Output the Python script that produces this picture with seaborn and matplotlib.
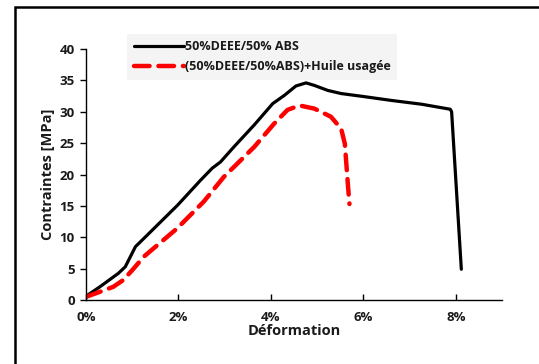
import matplotlib
matplotlib.use("Agg")
import matplotlib.pyplot as plt
import seaborn as sns
import pandas as pd
from matplotlib.patches import Rectangle
from matplotlib.ticker import FuncFormatter

# Data (strain in %, stress in MPa)
strain_abs = [0.0, 0.30, 0.70, 0.85, 0.96, 1.07, 1.25, 1.98, 2.48, 2.73, 2.91, 3.20, 3.64,
              4.04, 4.29, 4.54, 4.76, 4.94, 5.23, 5.52, 6.03, 6.61, 7.26, 7.88, 7.91, 8.12]
stress_abs = [0.6, 2.1, 4.25, 5.3, 6.9, 8.5, 9.8, 15.1, 19.1, 21.0, 22.0, 24.4, 27.9,
              31.3, 32.6, 34.1, 34.6, 34.2, 33.4, 32.9, 32.4, 31.8, 31.2, 30.4, 30.0, 4.9]
strain_oil = [0.0, 0.30, 0.59, 0.81, 1.03, 1.25, 1.97, 2.55, 2.98, 3.64, 4.07, 4.36, 4.62,
              4.94, 5.30, 5.52, 5.60, 5.67, 5.70]
stress_oil = [0.5, 1.3, 2.1, 3.2, 5.0, 6.9, 11.4, 15.7, 19.6, 24.4, 28.1, 30.3, 31.0,
              30.5, 29.2, 27.3, 24.9, 18.0, 15.3]
label_abs = "50%DEEE/50% ABS"
label_oil = "(50%DEEE/50%ABS)+Huile usagée"
x_ticks = [0, 2, 4, 6, 8]
y_ticks = [0, 5, 10, 15, 20, 25, 30, 35, 40]

sns.set_theme(style="white")
plt.rcParams['font.family'] = ['Open Sans', 'DejaVu Sans']
plt.rcParams['font.weight'] = 'bold'

fig = plt.figure(figsize=(5.39, 3.64), dpi=100)
ax = fig.add_axes([86/539, 1-300/364, (502-86)/539, (300-49)/364])

df_abs = pd.DataFrame({"x": strain_abs, "y": stress_abs})
df_oil = pd.DataFrame({"x": strain_oil, "y": stress_oil})
sns.lineplot(data=df_abs, x="x", y="y", ax=ax, color="black", lw=2.3,
             label=label_abs, sort=False, estimator=None)
sns.lineplot(data=df_oil, x="x", y="y", ax=ax, color="#ff0000", lw=3.2,
             label=label_oil, sort=False, estimator=None, dashes=False)
ax.lines[1].set_dashes([3.5, 2.0])
ax.lines[1].set_dash_capstyle('round')

ax.set_xlim(0, 9)
ax.set_ylim(0, 40)
ax.set_xticks(x_ticks)
ax.set_yticks(y_ticks)
ax.xaxis.set_major_formatter(FuncFormatter(lambda v, p: f"{int(v)}%"))
for s in ["top", "right"]:
    ax.spines[s].set_visible(False)
for s in ["left", "bottom"]:
    ax.spines[s].set_color("black")
    ax.spines[s].set_linewidth(1.0)
ax.tick_params(axis="x", direction="in", length=4, width=1, color="black",
               labelsize=9.5, pad=8, bottom=True)
ax.tick_params(axis="y", direction="out", length=4, width=1, color="black",
               labelsize=9.5, pad=4, left=True)
for t in ax.get_xticklabels() + ax.get_yticklabels():
    t.set_fontweight("bold")
    t.set_color("#1a1a1a")
ax.set_xlabel("Déformation", fontsize=10.5, fontweight="bold", labelpad=0, color="#1a1a1a")
ax.set_ylabel("Contraintes [MPa]", fontsize=10.5, fontweight="bold", labelpad=3, color="#1a1a1a")

leg = ax.legend(loc="upper left", bbox_to_anchor=(121/539, 1-28/364),
                bbox_transform=fig.transFigure, frameon=True, fancybox=False,
                facecolor="#f2f2f2", edgecolor="#f2f2f2", fontsize=9,
                handlelength=4.0, handletextpad=0.1, borderpad=0.5, labelspacing=0.55)
for t in leg.get_texts():
    t.set_fontweight("bold")
    t.set_color("#1a1a1a")
leg.get_frame().set_linewidth(0)

fig.patches.append(Rectangle((15/539, -0.1), 1.2, 1.1 - 7/364, transform=fig.transFigure,
                             fill=False, edgecolor="black", lw=1.8, figure=fig))

fig.savefig("out.png", dpi=100)
